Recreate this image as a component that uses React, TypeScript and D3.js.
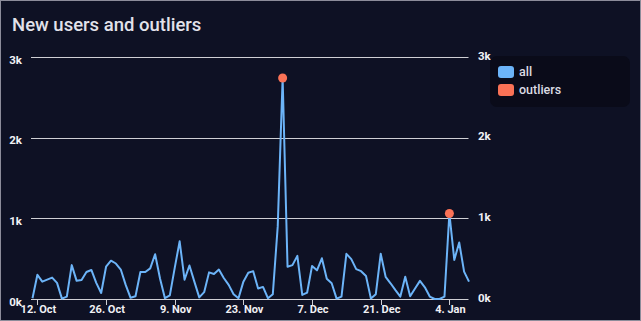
import React, { useEffect } from "react";
import * as d3 from "d3";

const startDate = new Date(Date.UTC(2022, 9, 11));
const allValues = [
  10, 300, 215, 240, 265, 200, 5, 30, 420, 225,
  235, 335, 360, 200, 75, 400, 475, 440, 365, 175,
  15, 35, 335, 335, 380, 555, 255, 10, 45, 385,
  715, 240, 415, 215, 20, 85, 330, 310, 365, 260,
  175, 60, 10, 215, 325, 345, 130, 150, 10, 60,
  900, 2740, 400, 420, 535, 50, 80, 410, 355, 505,
  250, 195, 5, 30, 560, 495, 370, 345, 285, 5,
  60, 560, 275, 195, 110, 30, 275, 35, 130, 225,
  145, 30, 0, 0, 30, 1060, 485, 700, 340, 215,
];
const outlierDays = [51, 85];
const yTicks = [0, 1000, 2000, 3000];
const xTickDates = [
  new Date(Date.UTC(2022, 9, 12)),
  new Date(Date.UTC(2022, 9, 26)),
  new Date(Date.UTC(2022, 10, 9)),
  new Date(Date.UTC(2022, 10, 23)),
  new Date(Date.UTC(2022, 11, 7)),
  new Date(Date.UTC(2022, 11, 21)),
  new Date(Date.UTC(2023, 0, 4)),
];
const seriesNames = ["all", "outliers"];
const seriesColors = ["#6cb4f8", "#fa7256"];

const W = 641;
const H = 321;
const FONT = "Roboto, 'DejaVu Sans', sans-serif";

export default function App() {
  useEffect(() => {
    document.body.style.margin = "0";
  }, []);

  const data = allValues.map((v, i) => ({ date: d3.utcDay.offset(startDate, i), value: v }));
  const outliers = outlierDays.map((i) => data[i]);

  const x = d3
    .scaleUtc()
    .domain([data[0].date, data[data.length - 1].date])
    .range([32.5, 469]);
  const y = d3.scaleLinear().domain([0, 3000]).range([299, 57]);

  const line = d3
    .line<{ date: Date; value: number }>()
    .x((d) => x(d.date))
    .y((d) => y(d.value));

  const fmtDate = d3.utcFormat("%-d. %b");
  const fmtY = (v: number) => `${v / 1000}k`;

  return (
    <svg
      width={W}
      height={H}
      style={{ position: "absolute", left: 0, top: 0, display: "block" }}
      fontFamily={FONT}
    >
      <rect x={0} y={0} width={W} height={H} fill="#0e1124" />
      <rect x={0.5} y={0.5} width={W - 1} height={H - 1} fill="none" stroke="#8c8c9a" strokeWidth={1} />
      <text x={12} y={31} fill="#e2e2ea" fontSize={18.5} fontWeight={500}>
        New users and outliers
      </text>

      {yTicks.map((t) => (
        <g key={t}>
          <line x1={31} x2={468.5} y1={Math.round(y(t)) + 0.5} y2={Math.round(y(t)) + 0.5} stroke="#cfcfd4" strokeWidth={1} />
          <text x={22} y={y(t) + 2.5} dy="0.35em" textAnchor="end" fill="#f0f0f4" fontSize={11.5} fontWeight={700}>
            {fmtY(t)}
          </text>
          <text x={478} y={y(t) - 1.5} dy="0.35em" textAnchor="start" fill="#f0f0f4" fontSize={11.5} fontWeight={700}>
            {fmtY(t)}
          </text>
        </g>
      ))}

      {xTickDates.map((d, i) => (
        <g key={i}>
          <line x1={Math.round(x(d)) + 0.5} x2={Math.round(x(d)) + 0.5} y1={299} y2={305} stroke="#cfcfd4" strokeWidth={1} />
          <text x={x(d) + 1} y={309.5} dy="0.35em" textAnchor="middle" fill="#f0f0f4" fontSize={11} fontWeight={700}>
            {fmtDate(d)}
          </text>
        </g>
      ))}

      <path d={line(data) || ""} fill="none" stroke={seriesColors[0]} strokeWidth={2} strokeLinejoin="round" />
      {outliers.map((d, i) => (
        <circle key={i} cx={x(d.date)} cy={y(d.value)} r={4.5} fill={seriesColors[1]} />
      ))}

      <rect x={490} y={56} width={140} height={51} rx={7} fill="#0a0b19" />
      {seriesNames.map((n, i) => (
        <g key={n} transform={`translate(498, ${66 + i * 18})`}>
          <rect x={0} y={0} width={16} height={12} rx={3} fill={seriesColors[i]} />
          <text x={21} y={6} dy="0.35em" fill="#dcdce4" fontSize={12.5} fontWeight={500}>
            {n}
          </text>
        </g>
      ))}
    </svg>
  );
}
